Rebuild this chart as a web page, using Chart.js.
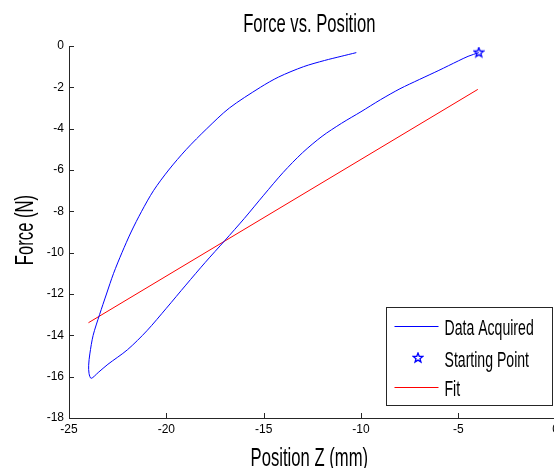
<!DOCTYPE html>
<html>
<head>
<meta charset="utf-8">
<script src="https://cdn.jsdelivr.net/npm/chart.js@4.4.0/dist/chart.umd.min.js"></script>
<style>
html, body { margin: 0; padding: 0; background: #fff; overflow: hidden; }
</style>
</head>
<body>
<canvas id="myChart" width="563" height="468"></canvas>
<script>
// measured loop: loading branch from the start point, then unloading branch
const dataX = [-3.95, -4.5, -5.0, -6.0, -7.0, -8.0, -9.0, -10.0, -11.0, -12.0, -13.0, -14.0, -15.0, -16.0, -17.0, -18.0, -19.0, -20.0, -21.0, -22.0, -23.0, -23.5, -23.86,
    -23.97, -23.99, -23.93, -23.76, -23.43, -23.075, -22.71, -22.28, -21.81, -21.27, -20.66, -19.88, -18.97, -17.92, -16.76, -15.17, -14.23, -12.95, -11.87, -11.02, -10.24]
const dataY = [-0.32, -0.50, -0.72, -1.18, -1.62, -2.07, -2.60, -3.18, -3.74, -4.37, -5.16, -6.12, -7.22, -8.35, -9.42, -10.47, -11.57, -12.69, -13.78, -14.70, -15.40, -15.80, -16.08,
    -15.85, -15.45, -14.90, -14.00, -13.00, -12.00, -11.00, -10.00, -9.00, -8.00, -7.00, -6.00, -5.00, -4.00, -3.00, -2.00, -1.50, -1.00, -0.70, -0.50, -0.32]
const startX = [-3.95]
const startY = [-0.32]
const fitX = [-24.0, -4.0]
const fitY = [-13.39, -2.10]
const xTicks = [-25, -20, -15, -10, -5, 0]
const yTicks = [0, -2, -4, -6, -8, -10, -12, -14, -16, -18]

const labelFont = "'Liberation Sans', Arial, sans-serif"
const narrow = 0.64
const axisColor = '#262626'

const toPoints = (xs, ys) => xs.map((x, i) => ({ x: x, y: ys[i] }))

// tall condensed text, like the matlab figure font
const drawNarrow = (ctx, text, x, y, size, rot) => {
    ctx.save()
    ctx.translate(x, y)
    if (rot) ctx.rotate(rot)
    ctx.scale(narrow, 1)
    ctx.font = size + 'px ' + labelFont
    ctx.textAlign = 'center'
    ctx.textBaseline = 'alphabetic'
    ctx.fillStyle = '#000'
    ctx.fillText(text, 0, 0)
    ctx.restore()
}

// five pointed star like the matlab 'p' marker
const makeStar = (size, color) => {
    const c = document.createElement('canvas')
    c.width = size
    c.height = size
    const g = c.getContext('2d')
    const cx = size / 2, cy = size / 2
    const ro = size / 2 - 1, ri = ro * 0.42
    g.beginPath()
    for (let i = 0; i < 10; i++) {
        const r = i % 2 === 0 ? ro : ri
        const a = -Math.PI / 2 + i * Math.PI / 5
        const px = cx + r * Math.cos(a), py = cy + r * Math.sin(a)
        if (i === 0) g.moveTo(px, py)
        else g.lineTo(px, py)
    }
    g.closePath()
    g.strokeStyle = color
    g.lineWidth = 1.3
    g.stroke()
    return c
}
const starImg = makeStar(12, 'rgb(0,0,255)')

// matlab style ticks pointing into the plot
const innerTicks = {
    id: 'innerTicks',
    afterDraw(chart) {
        const { ctx, chartArea, scales } = chart
        ctx.save()
        ctx.strokeStyle = axisColor
        ctx.lineWidth = 1
        ctx.beginPath()
        scales.x.ticks.forEach(t => {
            const px = Math.round(scales.x.getPixelForValue(t.value)) + 0.5
            ctx.moveTo(px, chartArea.bottom)
            ctx.lineTo(px, chartArea.bottom - 5)
        })
        scales.y.ticks.forEach(t => {
            const py = Math.round(scales.y.getPixelForValue(t.value)) + 0.5
            ctx.moveTo(chartArea.left, py)
            ctx.lineTo(chartArea.left + 5, py)
        })
        ctx.stroke()
        ctx.restore()
    }
}

// title and axis titles, texts come from the chart options
const narrowTitles = {
    id: 'narrowTitles',
    afterDraw(chart) {
        const { ctx, chartArea, options } = chart
        const cx = (chartArea.left + chartArea.right) / 2 - 3
        const cy = (chartArea.top + chartArea.bottom) / 2 - 2
        drawNarrow(ctx, options.plugins.title.text, cx, 32, 26)
        drawNarrow(ctx, options.scales.x.title.text, cx, 466, 26)
        drawNarrow(ctx, options.scales.y.title.text, 33, cy, 26, -Math.PI / 2)
    }
}

// boxed legend in the lower right corner
const boxLegend = {
    id: 'boxLegend',
    afterDraw(chart) {
        const { ctx, chartArea } = chart
        const w = 166, h = 98
        const x0 = Math.round(chartArea.right - 4 - w) + 0.5
        const y0 = Math.round(chartArea.bottom - 13 - h) + 0.5
        ctx.save()
        ctx.fillStyle = '#fff'
        ctx.fillRect(x0, y0, w, h)
        ctx.strokeStyle = axisColor
        ctx.lineWidth = 1
        ctx.strokeRect(x0, y0, w, h)
        const rows = [18, 50, 79]
        chart.data.datasets.forEach((ds, i) => {
            const yy = y0 + rows[i]
            if (ds.showLine) {
                ctx.strokeStyle = ds.borderColor
                ctx.beginPath()
                ctx.moveTo(x0 + 8, Math.round(yy) + 0.5)
                ctx.lineTo(x0 + 52, Math.round(yy) + 0.5)
                ctx.stroke()
            } else {
                ctx.drawImage(starImg, Math.round(x0 + 31 - 6), Math.round(yy - 6))
            }
            ctx.save()
            ctx.translate(x0 + 58, yy + 9)
            ctx.scale(narrow, 1)
            ctx.font = '22px ' + labelFont
            ctx.textBaseline = 'alphabetic'
            ctx.fillStyle = '#000'
            ctx.fillText(ds.label, 0, 0)
            ctx.restore()
        })
        ctx.restore()
    }
}

const config = {
    type: 'scatter',
    data: {
        datasets: [{
            label: 'Data Acquired',
            data: toPoints(dataX, dataY),
            showLine: true,
            borderColor: 'rgb(0,0,255)',
            borderWidth: 1,
            pointRadius: 0,
            tension: 0.3
        }, {
            label: 'Starting Point',
            data: toPoints(startX, startY),
            showLine: false,
            pointStyle: starImg,
            pointRadius: 6
        }, {
            label: 'Fit',
            data: toPoints(fitX, fitY),
            showLine: true,
            borderColor: 'rgb(255,0,0)',
            borderWidth: 1,
            pointRadius: 0
        }]
    },
    options: {
        responsive: false,
        animation: false,
        layout: { padding: { top: 46 } },
        plugins: {
            legend: { display: false },
            tooltip: { enabled: false },
            title: { display: false, text: 'Force vs. Position' }
        },
        scales: {
            x: {
                type: 'linear',
                min: -25,
                max: 0,
                afterBuildTicks: (s) => { s.ticks = xTicks.map(v => ({ value: v })) },
                afterFit: (s) => { s.height = 50 },
                grid: { display: false, drawTicks: false },
                border: { display: true, color: axisColor, width: 1 },
                ticks: { color: '#000', padding: 4, maxRotation: 0, font: { family: labelFont, size: 12 } },
                title: { display: false, text: 'Position Z (mm)' }
            },
            y: {
                type: 'linear',
                min: -18,
                max: 0,
                afterBuildTicks: (s) => { s.ticks = yTicks.map(v => ({ value: v })) },
                afterFit: (s) => { s.width = 69 },
                grid: { display: false, drawTicks: false },
                border: { display: true, color: axisColor, width: 1 },
                ticks: { color: '#000', padding: 5, font: { family: labelFont, size: 12 } },
                title: { display: false, text: 'Force (N)' }
            }
        }
    },
    plugins: [innerTicks, narrowTitles, boxLegend]
}

const myChart = document.getElementById('myChart')
const grafico = new Chart(myChart, config)
</script>
</body>
</html>
